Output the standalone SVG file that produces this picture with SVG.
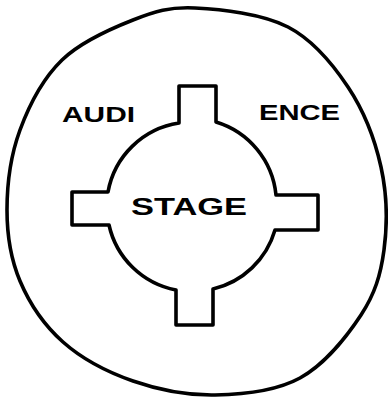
<svg xmlns="http://www.w3.org/2000/svg" width="388" height="398" viewBox="0 0 388 398">
<style>
.ink{fill:none;stroke:#000;stroke-width:3.6;stroke-linejoin:round;stroke-linecap:round}
.lbl{font-family:"Liberation Sans",Arial,sans-serif;font-weight:bold;fill:#000}
</style>
<rect width="388" height="398" fill="#fff"/>
<g id="audience">
<path class="ink" d="M195,8 C220.8,9.2 262.5,13.8 288,27 C313.5,40.2 332.5,63.7 348,87 C363.5,110.3 375,139.8 381,167 C387,194.2 387.3,225.3 384,250 C380.7,274.7 375,293.7 361,315 C347,336.3 324.3,364.7 300,378 C275.7,391.3 242.8,394.5 215,395 C187.2,395.5 158.3,389.8 133,381 C107.7,372.2 81.8,358.7 63,342 C44.2,325.3 29.3,303 20,281 C10.7,259 7,235.2 7,210 C7,184.8 10.8,155 20,130 C29.2,105 43.2,78.3 62,60 C80.8,41.7 110.8,28.7 133,20 C155.2,11.3 169.2,6.8 195,8 Z"/>
<text class="lbl" x="62" y="122" font-size="22" textLength="73" lengthAdjust="spacingAndGlyphs">AUDI</text>
<text class="lbl" x="259" y="120" font-size="22" textLength="81" lengthAdjust="spacingAndGlyphs">ENCE</text>
</g>
<g id="stage">
<path class="ink" d="M179,123 L179,86 L216,86 L216,122 A85,85 0 0 1 276,195 L318,195 L318,230 L275,230 A85,85 0 0 1 213,289 L213,325 L176,325 L176,290 A85,85 0 0 1 109,225 L72,225 L72,192 L108,192 A85,85 0 0 1 179,123 Z"/>
<text class="lbl" x="131" y="215" font-size="24" textLength="116" lengthAdjust="spacingAndGlyphs">STAGE</text>
</g>
</svg>
